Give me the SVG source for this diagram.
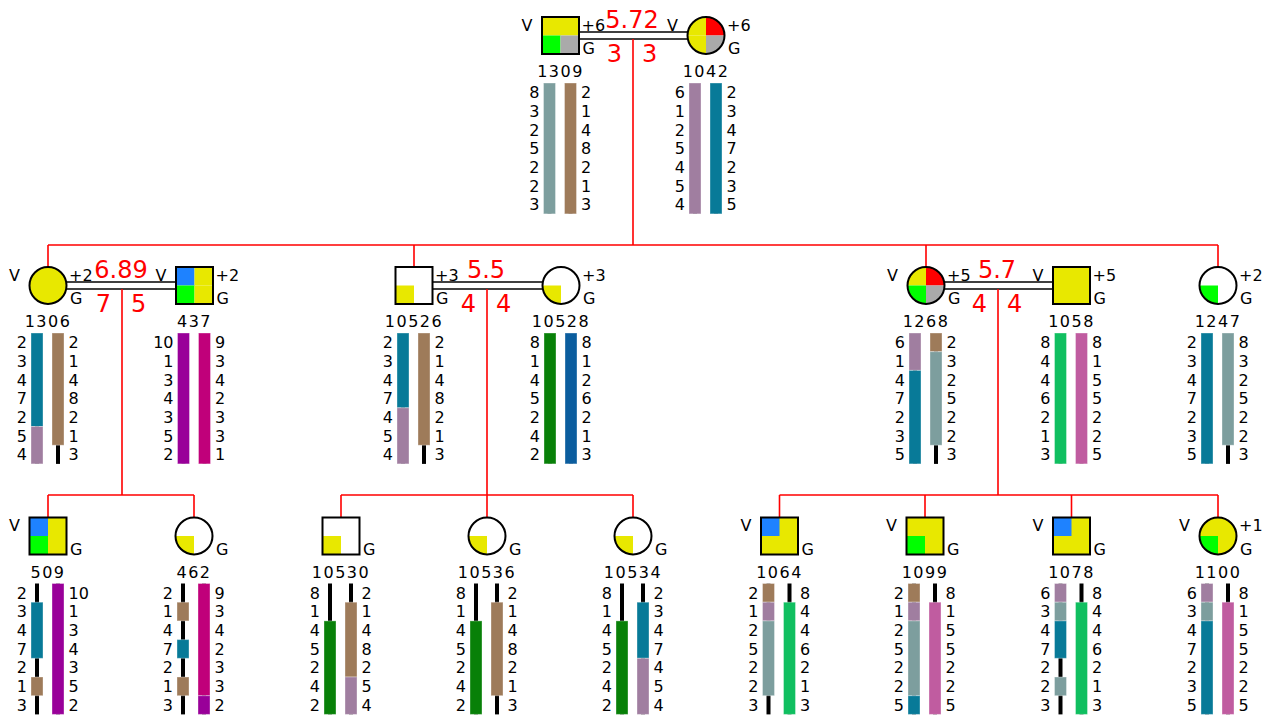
<svg xmlns="http://www.w3.org/2000/svg" xmlns:xlink="http://www.w3.org/1999/xlink" width="1269" height="719" viewBox="0 0 1269 719">
<style>
.t{font-family:"DejaVu Sans",sans-serif;font-size:16px;fill:#000}
.id{letter-spacing:1.5px;text-anchor:middle}
.M{text-anchor:middle}
.L{text-anchor:end}
.r{font-family:"DejaVu Sans",sans-serif;font-size:24px;fill:#f00}
.ln{stroke:#f00;stroke-width:1.6;fill:none}
.dl{stroke:#000;stroke-width:1.6}
.s{stroke:#000;stroke-width:2;fill:none}
.seg{stroke:#fff;stroke-opacity:.35;stroke-width:1}
.tg{fill:#7d9e9e}.br{fill:#9e7b5a}.mv{fill:#a07ea0}.tb{fill:#087a98}.pu{fill:#990099}.mg{fill:#c0007a}.dg{fill:#088008}.bl{fill:#0b5d9e}.gn{fill:#10bf60}.pk{fill:#c05ca0}
</style>
<defs>
<path id="cTL" d="M0 0H-18.5A18.5 18.5 0 0 1 0-18.5Z"/>
<path id="cTR" d="M0 0V-18.5A18.5 18.5 0 0 1 18.5 0Z"/>
<path id="cBR" d="M0 0H18.5A18.5 18.5 0 0 1 0 18.5Z"/>
<path id="cBL" d="M0 0V18.5A18.5 18.5 0 0 1-18.5 0Z"/>
<rect id="sTL" x="-18.5" y="-18.5" width="18.5" height="18.5"/>
<rect id="sTR" x="0" y="-18.5" width="18.5" height="18.5"/>
<rect id="sBL" x="-18.5" y="0" width="18.5" height="18.5"/>
<rect id="sBR" x="0" y="0" width="18.5" height="18.5"/>
<g id="bbs" fill="#000"><rect x="-13" y="47.5" width="4" height="130.9"/><rect x="8" y="47.5" width="4" height="130.9"/></g>
</defs>
<rect width="1269" height="719" fill="#fff"/>

<g id="connectors">
<line class="dl" x1="579" y1="32" x2="687.5" y2="32"/><line class="dl" x1="579" y1="39" x2="687.5" y2="39"/>
<line class="dl" x1="66.5" y1="282" x2="176" y2="282"/><line class="dl" x1="66.5" y1="289" x2="176" y2="289"/>
<line class="dl" x1="432.5" y1="282" x2="542.5" y2="282"/><line class="dl" x1="432.5" y1="289" x2="542.5" y2="289"/>
<line class="dl" x1="944.5" y1="282" x2="1053" y2="282"/><line class="dl" x1="944.5" y1="289" x2="1053" y2="289"/>
<path class="ln" d="M633 39V245M48 245H1218M48 245V267M414 245V267M926 245V267M1218 245V267"/>
<path class="ln" d="M122 289V495M48 495H194M48 495V517.5M194 495V517.5"/>
<path class="ln" d="M487 289V495M341 495H633M341 495V517.5M487 495V517.5M633 495V517.5"/>
<path class="ln" d="M998 289V495M779.5 495H1218M779.5 495V517.5M925 495V517.5M1071.5 495V517.5M1218 495V517.5"/>
<text class="r M" x="632" y="27.5">5.72</text><text class="r L" x="622" y="61.5">3</text><text class="r" x="642" y="61.5">3</text>
<text class="r M" x="121" y="277.5">6.89</text><text class="r L" x="111" y="311.5">7</text><text class="r" x="131" y="311.5">5</text>
<text class="r M" x="486" y="277.5">5.5</text><text class="r L" x="476" y="311.5">4</text><text class="r" x="496" y="311.5">4</text>
<text class="r M" x="997" y="277.5">5.7</text><text class="r L" x="987" y="311.5">4</text><text class="r" x="1007" y="311.5">4</text>
</g>

<g id="n1309" transform="translate(560.5 35.5)">
<rect x="-18.5" y="-18.5" width="37" height="18.5" fill="#e8e800"/><use href="#sBL" fill="#00ff00"/><use href="#sBR" fill="#aaa"/>
<rect class="s" x="-18.5" y="-18.5" width="37" height="37"/>
<text class="t M" x="-33.5" y="-5">V</text><text class="t" x="21" y="-5">+6</text><text class="t" x="22" y="18.5">G</text>
<text class="t id" x="0" y="41.5">1309</text>
<use href="#bbs"/>
<rect class="seg tg" x="-17" y="47.5" width="12" height="130.9"/>
<rect class="seg br" x="4" y="47.5" width="12" height="130.9"/>
<text class="t L"><tspan x="-21" y="62.6">8</tspan><tspan x="-21" y="81.3">3</tspan><tspan x="-21" y="100">2</tspan><tspan x="-21" y="118.7">5</tspan><tspan x="-21" y="137.4">2</tspan><tspan x="-21" y="156.1">2</tspan><tspan x="-21" y="174.8">3</tspan></text>
<text class="t"><tspan x="20.5" y="62.6">2</tspan><tspan x="20.5" y="81.3">1</tspan><tspan x="20.5" y="100">4</tspan><tspan x="20.5" y="118.7">8</tspan><tspan x="20.5" y="137.4">2</tspan><tspan x="20.5" y="156.1">1</tspan><tspan x="20.5" y="174.8">3</tspan></text>
</g>

<g id="n1042" transform="translate(706 35.5)">
<use href="#cTL" fill="#e8e800"/><use href="#cBL" fill="#e8e800"/><use href="#cTR" fill="#f00"/><use href="#cBR" fill="#aaa"/>
<circle class="s" r="18.5"/>
<text class="t M" x="-33.5" y="-5">V</text><text class="t" x="21" y="-5">+6</text><text class="t" x="22" y="18.5">G</text>
<text class="t id" x="0" y="41.5">1042</text>
<use href="#bbs"/>
<rect class="seg mv" x="-17" y="47.5" width="12" height="130.9"/>
<rect class="seg tb" x="4" y="47.5" width="12" height="130.9"/>
<text class="t L"><tspan x="-21" y="62.6">6</tspan><tspan x="-21" y="81.3">1</tspan><tspan x="-21" y="100">2</tspan><tspan x="-21" y="118.7">5</tspan><tspan x="-21" y="137.4">4</tspan><tspan x="-21" y="156.1">5</tspan><tspan x="-21" y="174.8">4</tspan></text>
<text class="t"><tspan x="20.5" y="62.6">2</tspan><tspan x="20.5" y="81.3">3</tspan><tspan x="20.5" y="100">4</tspan><tspan x="20.5" y="118.7">7</tspan><tspan x="20.5" y="137.4">2</tspan><tspan x="20.5" y="156.1">3</tspan><tspan x="20.5" y="174.8">5</tspan></text>
</g>

<g id="n1306" transform="translate(48 285.5)">
<circle r="18.5" fill="#e8e800"/><circle class="s" r="18.5"/>
<text class="t M" x="-33.5" y="-5">V</text><text class="t" x="21" y="-5">+2</text><text class="t" x="22" y="18.5">G</text>
<text class="t id" x="0" y="41.5">1306</text>
<use href="#bbs"/>
<rect class="seg tb" x="-17" y="47.5" width="12" height="93.5"/>
<rect class="seg mv" x="-17" y="141" width="12" height="37.4"/>
<rect class="seg br" x="4" y="47.5" width="12" height="112.2"/>
<text class="t L"><tspan x="-21" y="62.6">2</tspan><tspan x="-21" y="81.3">3</tspan><tspan x="-21" y="100">4</tspan><tspan x="-21" y="118.7">7</tspan><tspan x="-21" y="137.4">2</tspan><tspan x="-21" y="156.1">5</tspan><tspan x="-21" y="174.8">4</tspan></text>
<text class="t"><tspan x="20.5" y="62.6">2</tspan><tspan x="20.5" y="81.3">1</tspan><tspan x="20.5" y="100">4</tspan><tspan x="20.5" y="118.7">8</tspan><tspan x="20.5" y="137.4">2</tspan><tspan x="20.5" y="156.1">1</tspan><tspan x="20.5" y="174.8">3</tspan></text>
</g>

<g id="n437" transform="translate(194.5 285.5)">
<use href="#sTL" fill="#1e82ff"/><use href="#sTR" fill="#e8e800"/><use href="#sBL" fill="#00ff00"/><use href="#sBR" fill="#e8e800"/>
<rect class="s" x="-18.5" y="-18.5" width="37" height="37"/>
<text class="t M" x="-33.5" y="-5">V</text><text class="t" x="21" y="-5">+2</text><text class="t" x="22" y="18.5">G</text>
<text class="t id" x="0" y="41.5">437</text>
<use href="#bbs"/>
<rect class="seg pu" x="-17" y="47.5" width="12" height="130.9"/>
<rect class="seg mg" x="4" y="47.5" width="12" height="130.9"/>
<text class="t L"><tspan x="-21" y="62.6">10</tspan><tspan x="-21" y="81.3">1</tspan><tspan x="-21" y="100">3</tspan><tspan x="-21" y="118.7">4</tspan><tspan x="-21" y="137.4">3</tspan><tspan x="-21" y="156.1">5</tspan><tspan x="-21" y="174.8">2</tspan></text>
<text class="t"><tspan x="20.5" y="62.6">9</tspan><tspan x="20.5" y="81.3">3</tspan><tspan x="20.5" y="100">4</tspan><tspan x="20.5" y="118.7">2</tspan><tspan x="20.5" y="137.4">3</tspan><tspan x="20.5" y="156.1">3</tspan><tspan x="20.5" y="174.8">1</tspan></text>
</g>

<g id="n10526" transform="translate(414 285.5)">
<rect x="-18.5" y="-18.5" width="37" height="37" fill="#fff"/><use href="#sBL" fill="#e8e800"/>
<rect class="s" x="-18.5" y="-18.5" width="37" height="37"/>
<text class="t" x="21" y="-5">+3</text><text class="t" x="22" y="18.5">G</text>
<text class="t id" x="0" y="41.5">10526</text>
<use href="#bbs"/>
<rect class="seg tb" x="-17" y="47.5" width="12" height="74.8"/>
<rect class="seg mv" x="-17" y="122.3" width="12" height="56.1"/>
<rect class="seg br" x="4" y="47.5" width="12" height="112.2"/>
<text class="t L"><tspan x="-21" y="62.6">2</tspan><tspan x="-21" y="81.3">3</tspan><tspan x="-21" y="100">4</tspan><tspan x="-21" y="118.7">7</tspan><tspan x="-21" y="137.4">4</tspan><tspan x="-21" y="156.1">5</tspan><tspan x="-21" y="174.8">4</tspan></text>
<text class="t"><tspan x="20.5" y="62.6">2</tspan><tspan x="20.5" y="81.3">1</tspan><tspan x="20.5" y="100">4</tspan><tspan x="20.5" y="118.7">8</tspan><tspan x="20.5" y="137.4">2</tspan><tspan x="20.5" y="156.1">1</tspan><tspan x="20.5" y="174.8">3</tspan></text>
</g>

<g id="n10528" transform="translate(561 285.5)">
<circle r="18.5" fill="#fff"/><use href="#cBL" fill="#e8e800"/><circle class="s" r="18.5"/>
<text class="t" x="21" y="-5">+3</text><text class="t" x="22" y="18.5">G</text>
<text class="t id" x="0" y="41.5">10528</text>
<use href="#bbs"/>
<rect class="seg dg" x="-17" y="47.5" width="12" height="130.9"/>
<rect class="seg bl" x="4" y="47.5" width="12" height="130.9"/>
<text class="t L"><tspan x="-21" y="62.6">8</tspan><tspan x="-21" y="81.3">1</tspan><tspan x="-21" y="100">4</tspan><tspan x="-21" y="118.7">5</tspan><tspan x="-21" y="137.4">2</tspan><tspan x="-21" y="156.1">4</tspan><tspan x="-21" y="174.8">2</tspan></text>
<text class="t"><tspan x="20.5" y="62.6">8</tspan><tspan x="20.5" y="81.3">1</tspan><tspan x="20.5" y="100">2</tspan><tspan x="20.5" y="118.7">6</tspan><tspan x="20.5" y="137.4">2</tspan><tspan x="20.5" y="156.1">1</tspan><tspan x="20.5" y="174.8">3</tspan></text>
</g>

<g id="n1268" transform="translate(926 285.5)">
<use href="#cTL" fill="#e8e800"/><use href="#cTR" fill="#f00"/><use href="#cBL" fill="#00ff00"/><use href="#cBR" fill="#aaa"/>
<circle class="s" r="18.5"/>
<text class="t M" x="-33.5" y="-5">V</text><text class="t" x="21" y="-5">+5</text><text class="t" x="22" y="18.5">G</text>
<text class="t id" x="0" y="41.5">1268</text>
<use href="#bbs"/>
<rect class="seg mv" x="-17" y="47.5" width="12" height="37.4"/>
<rect class="seg tb" x="-17" y="84.9" width="12" height="93.5"/>
<rect class="seg br" x="4" y="47.5" width="12" height="18.7"/>
<rect class="seg tg" x="4" y="66.2" width="12" height="93.5"/>
<text class="t L"><tspan x="-21" y="62.6">6</tspan><tspan x="-21" y="81.3">1</tspan><tspan x="-21" y="100">4</tspan><tspan x="-21" y="118.7">7</tspan><tspan x="-21" y="137.4">2</tspan><tspan x="-21" y="156.1">3</tspan><tspan x="-21" y="174.8">5</tspan></text>
<text class="t"><tspan x="20.5" y="62.6">2</tspan><tspan x="20.5" y="81.3">3</tspan><tspan x="20.5" y="100">2</tspan><tspan x="20.5" y="118.7">5</tspan><tspan x="20.5" y="137.4">2</tspan><tspan x="20.5" y="156.1">2</tspan><tspan x="20.5" y="174.8">3</tspan></text>
</g>

<g id="n1058" transform="translate(1071.5 285.5)">
<rect x="-18.5" y="-18.5" width="37" height="37" fill="#e8e800"/>
<rect class="s" x="-18.5" y="-18.5" width="37" height="37"/>
<text class="t M" x="-33.5" y="-5">V</text><text class="t" x="21" y="-5">+5</text><text class="t" x="22" y="18.5">G</text>
<text class="t id" x="0" y="41.5">1058</text>
<use href="#bbs"/>
<rect class="seg gn" x="-17" y="47.5" width="12" height="130.9"/>
<rect class="seg pk" x="4" y="47.5" width="12" height="130.9"/>
<text class="t L"><tspan x="-21" y="62.6">8</tspan><tspan x="-21" y="81.3">4</tspan><tspan x="-21" y="100">4</tspan><tspan x="-21" y="118.7">6</tspan><tspan x="-21" y="137.4">2</tspan><tspan x="-21" y="156.1">1</tspan><tspan x="-21" y="174.8">3</tspan></text>
<text class="t"><tspan x="20.5" y="62.6">8</tspan><tspan x="20.5" y="81.3">1</tspan><tspan x="20.5" y="100">5</tspan><tspan x="20.5" y="118.7">5</tspan><tspan x="20.5" y="137.4">2</tspan><tspan x="20.5" y="156.1">2</tspan><tspan x="20.5" y="174.8">5</tspan></text>
</g>

<g id="n1247" transform="translate(1218 285.5)">
<circle r="18.5" fill="#fff"/><use href="#cBL" fill="#00ff00"/><circle class="s" r="18.5"/>
<text class="t" x="21" y="-5">+2</text><text class="t" x="22" y="18.5">G</text>
<text class="t id" x="0" y="41.5">1247</text>
<use href="#bbs"/>
<rect class="seg tb" x="-17" y="47.5" width="12" height="130.9"/>
<rect class="seg tg" x="4" y="47.5" width="12" height="112.2"/>
<text class="t L"><tspan x="-21" y="62.6">2</tspan><tspan x="-21" y="81.3">3</tspan><tspan x="-21" y="100">4</tspan><tspan x="-21" y="118.7">7</tspan><tspan x="-21" y="137.4">2</tspan><tspan x="-21" y="156.1">3</tspan><tspan x="-21" y="174.8">5</tspan></text>
<text class="t"><tspan x="20.5" y="62.6">8</tspan><tspan x="20.5" y="81.3">3</tspan><tspan x="20.5" y="100">2</tspan><tspan x="20.5" y="118.7">5</tspan><tspan x="20.5" y="137.4">2</tspan><tspan x="20.5" y="156.1">2</tspan><tspan x="20.5" y="174.8">3</tspan></text>
</g>

<g id="n509" transform="translate(48 536)">
<use href="#sTL" fill="#1e82ff"/><use href="#sTR" fill="#e8e800"/><use href="#sBL" fill="#00ff00"/><use href="#sBR" fill="#e8e800"/>
<rect class="s" x="-18.5" y="-18.5" width="37" height="37"/>
<text class="t M" x="-33.5" y="-5">V</text><text class="t" x="22" y="18.5">G</text>
<text class="t id" x="0" y="41.5">509</text>
<use href="#bbs"/>
<rect class="seg tb" x="-17" y="66.2" width="12" height="56.1"/>
<rect class="seg br" x="-17" y="141" width="12" height="18.7"/>
<rect class="seg pu" x="4" y="47.5" width="12" height="130.9"/>
<text class="t L"><tspan x="-21" y="62.6">2</tspan><tspan x="-21" y="81.3">3</tspan><tspan x="-21" y="100">4</tspan><tspan x="-21" y="118.7">7</tspan><tspan x="-21" y="137.4">2</tspan><tspan x="-21" y="156.1">1</tspan><tspan x="-21" y="174.8">3</tspan></text>
<text class="t"><tspan x="20.5" y="62.6">10</tspan><tspan x="20.5" y="81.3">1</tspan><tspan x="20.5" y="100">3</tspan><tspan x="20.5" y="118.7">4</tspan><tspan x="20.5" y="137.4">3</tspan><tspan x="20.5" y="156.1">5</tspan><tspan x="20.5" y="174.8">2</tspan></text>
</g>

<g id="n462" transform="translate(194 536)">
<circle r="18.5" fill="#fff"/><use href="#cBL" fill="#e8e800"/><circle class="s" r="18.5"/>
<text class="t" x="22" y="18.5">G</text>
<text class="t id" x="0" y="41.5">462</text>
<use href="#bbs"/>
<rect class="seg br" x="-17" y="66.2" width="12" height="18.7"/>
<rect class="seg tb" x="-17" y="103.6" width="12" height="18.7"/>
<rect class="seg br" x="-17" y="141" width="12" height="18.7"/>
<rect class="seg mg" x="4" y="47.5" width="12" height="112.2"/>
<rect class="seg pu" x="4" y="159.7" width="12" height="18.7"/>
<text class="t L"><tspan x="-21" y="62.6">2</tspan><tspan x="-21" y="81.3">1</tspan><tspan x="-21" y="100">4</tspan><tspan x="-21" y="118.7">7</tspan><tspan x="-21" y="137.4">2</tspan><tspan x="-21" y="156.1">1</tspan><tspan x="-21" y="174.8">3</tspan></text>
<text class="t"><tspan x="20.5" y="62.6">9</tspan><tspan x="20.5" y="81.3">3</tspan><tspan x="20.5" y="100">4</tspan><tspan x="20.5" y="118.7">2</tspan><tspan x="20.5" y="137.4">3</tspan><tspan x="20.5" y="156.1">3</tspan><tspan x="20.5" y="174.8">2</tspan></text>
</g>

<g id="n10530" transform="translate(341 536)">
<rect x="-18.5" y="-18.5" width="37" height="37" fill="#fff"/><use href="#sBL" fill="#e8e800"/>
<rect class="s" x="-18.5" y="-18.5" width="37" height="37"/>
<text class="t" x="22" y="18.5">G</text>
<text class="t id" x="0" y="41.5">10530</text>
<use href="#bbs"/>
<rect class="seg dg" x="-17" y="84.9" width="12" height="93.5"/>
<rect class="seg br" x="4" y="66.2" width="12" height="74.8"/>
<rect class="seg mv" x="4" y="141" width="12" height="37.4"/>
<text class="t L"><tspan x="-21" y="62.6">8</tspan><tspan x="-21" y="81.3">1</tspan><tspan x="-21" y="100">4</tspan><tspan x="-21" y="118.7">5</tspan><tspan x="-21" y="137.4">2</tspan><tspan x="-21" y="156.1">4</tspan><tspan x="-21" y="174.8">2</tspan></text>
<text class="t"><tspan x="20.5" y="62.6">2</tspan><tspan x="20.5" y="81.3">1</tspan><tspan x="20.5" y="100">4</tspan><tspan x="20.5" y="118.7">8</tspan><tspan x="20.5" y="137.4">2</tspan><tspan x="20.5" y="156.1">5</tspan><tspan x="20.5" y="174.8">4</tspan></text>
</g>

<g id="n10536" transform="translate(487 536)">
<circle r="18.5" fill="#fff"/><use href="#cBL" fill="#e8e800"/><circle class="s" r="18.5"/>
<text class="t" x="22" y="18.5">G</text>
<text class="t id" x="0" y="41.5">10536</text>
<use href="#bbs"/>
<rect class="seg dg" x="-17" y="84.9" width="12" height="93.5"/>
<rect class="seg br" x="4" y="66.2" width="12" height="93.5"/>
<text class="t L"><tspan x="-21" y="62.6">8</tspan><tspan x="-21" y="81.3">1</tspan><tspan x="-21" y="100">4</tspan><tspan x="-21" y="118.7">5</tspan><tspan x="-21" y="137.4">2</tspan><tspan x="-21" y="156.1">4</tspan><tspan x="-21" y="174.8">2</tspan></text>
<text class="t"><tspan x="20.5" y="62.6">2</tspan><tspan x="20.5" y="81.3">1</tspan><tspan x="20.5" y="100">4</tspan><tspan x="20.5" y="118.7">8</tspan><tspan x="20.5" y="137.4">2</tspan><tspan x="20.5" y="156.1">1</tspan><tspan x="20.5" y="174.8">3</tspan></text>
</g>

<g id="n10534" transform="translate(633 536)">
<circle r="18.5" fill="#fff"/><use href="#cBL" fill="#e8e800"/><circle class="s" r="18.5"/>
<text class="t" x="22" y="18.5">G</text>
<text class="t id" x="0" y="41.5">10534</text>
<use href="#bbs"/>
<rect class="seg dg" x="-17" y="84.9" width="12" height="93.5"/>
<rect class="seg tb" x="4" y="66.2" width="12" height="56.1"/>
<rect class="seg mv" x="4" y="122.3" width="12" height="56.1"/>
<text class="t L"><tspan x="-21" y="62.6">8</tspan><tspan x="-21" y="81.3">1</tspan><tspan x="-21" y="100">4</tspan><tspan x="-21" y="118.7">5</tspan><tspan x="-21" y="137.4">2</tspan><tspan x="-21" y="156.1">4</tspan><tspan x="-21" y="174.8">2</tspan></text>
<text class="t"><tspan x="20.5" y="62.6">2</tspan><tspan x="20.5" y="81.3">3</tspan><tspan x="20.5" y="100">4</tspan><tspan x="20.5" y="118.7">7</tspan><tspan x="20.5" y="137.4">4</tspan><tspan x="20.5" y="156.1">5</tspan><tspan x="20.5" y="174.8">4</tspan></text>
</g>

<g id="n1064" transform="translate(779.5 536)">
<rect x="-18.5" y="-18.5" width="37" height="37" fill="#e8e800"/><use href="#sTL" fill="#1e82ff"/>
<rect class="s" x="-18.5" y="-18.5" width="37" height="37"/>
<text class="t M" x="-33.5" y="-5">V</text><text class="t" x="22" y="18.5">G</text>
<text class="t id" x="0" y="41.5">1064</text>
<use href="#bbs"/>
<rect class="seg br" x="-17" y="47.5" width="12" height="18.7"/>
<rect class="seg mv" x="-17" y="66.2" width="12" height="18.7"/>
<rect class="seg tg" x="-17" y="84.9" width="12" height="74.8"/>
<rect class="seg gn" x="4" y="66.2" width="12" height="112.2"/>
<text class="t L"><tspan x="-21" y="62.6">2</tspan><tspan x="-21" y="81.3">1</tspan><tspan x="-21" y="100">2</tspan><tspan x="-21" y="118.7">5</tspan><tspan x="-21" y="137.4">2</tspan><tspan x="-21" y="156.1">2</tspan><tspan x="-21" y="174.8">3</tspan></text>
<text class="t"><tspan x="20.5" y="62.6">8</tspan><tspan x="20.5" y="81.3">4</tspan><tspan x="20.5" y="100">4</tspan><tspan x="20.5" y="118.7">6</tspan><tspan x="20.5" y="137.4">2</tspan><tspan x="20.5" y="156.1">1</tspan><tspan x="20.5" y="174.8">3</tspan></text>
</g>

<g id="n1099" transform="translate(925 536)">
<rect x="-18.5" y="-18.5" width="37" height="37" fill="#e8e800"/><use href="#sBL" fill="#00ff00"/>
<rect class="s" x="-18.5" y="-18.5" width="37" height="37"/>
<text class="t M" x="-33.5" y="-5">V</text><text class="t" x="22" y="18.5">G</text>
<text class="t id" x="0" y="41.5">1099</text>
<use href="#bbs"/>
<rect class="seg br" x="-17" y="47.5" width="12" height="18.7"/>
<rect class="seg mv" x="-17" y="66.2" width="12" height="18.7"/>
<rect class="seg tg" x="-17" y="84.9" width="12" height="74.8"/>
<rect class="seg tb" x="-17" y="159.7" width="12" height="18.7"/>
<rect class="seg pk" x="4" y="66.2" width="12" height="112.2"/>
<text class="t L"><tspan x="-21" y="62.6">2</tspan><tspan x="-21" y="81.3">1</tspan><tspan x="-21" y="100">2</tspan><tspan x="-21" y="118.7">5</tspan><tspan x="-21" y="137.4">2</tspan><tspan x="-21" y="156.1">2</tspan><tspan x="-21" y="174.8">5</tspan></text>
<text class="t"><tspan x="20.5" y="62.6">8</tspan><tspan x="20.5" y="81.3">1</tspan><tspan x="20.5" y="100">5</tspan><tspan x="20.5" y="118.7">5</tspan><tspan x="20.5" y="137.4">2</tspan><tspan x="20.5" y="156.1">2</tspan><tspan x="20.5" y="174.8">5</tspan></text>
</g>

<g id="n1078" transform="translate(1071.5 536)">
<rect x="-18.5" y="-18.5" width="37" height="37" fill="#e8e800"/><use href="#sTL" fill="#1e82ff"/>
<rect class="s" x="-18.5" y="-18.5" width="37" height="37"/>
<text class="t M" x="-33.5" y="-5">V</text><text class="t" x="22" y="18.5">G</text>
<text class="t id" x="0" y="41.5">1078</text>
<use href="#bbs"/>
<rect class="seg mv" x="-17" y="47.5" width="12" height="18.7"/>
<rect class="seg tg" x="-17" y="66.2" width="12" height="18.7"/>
<rect class="seg tb" x="-17" y="84.9" width="12" height="37.4"/>
<rect class="seg tg" x="-17" y="141" width="12" height="18.7"/>
<rect class="seg gn" x="4" y="66.2" width="12" height="112.2"/>
<text class="t L"><tspan x="-21" y="62.6">6</tspan><tspan x="-21" y="81.3">3</tspan><tspan x="-21" y="100">4</tspan><tspan x="-21" y="118.7">7</tspan><tspan x="-21" y="137.4">2</tspan><tspan x="-21" y="156.1">2</tspan><tspan x="-21" y="174.8">3</tspan></text>
<text class="t"><tspan x="20.5" y="62.6">8</tspan><tspan x="20.5" y="81.3">4</tspan><tspan x="20.5" y="100">4</tspan><tspan x="20.5" y="118.7">6</tspan><tspan x="20.5" y="137.4">2</tspan><tspan x="20.5" y="156.1">1</tspan><tspan x="20.5" y="174.8">3</tspan></text>
</g>

<g id="n1100" transform="translate(1218 536)">
<circle r="18.5" fill="#e8e800"/><use href="#cBL" fill="#00ff00"/><circle class="s" r="18.5"/>
<text class="t M" x="-33.5" y="-5">V</text><text class="t" x="21" y="-5">+1</text><text class="t" x="22" y="18.5">G</text>
<text class="t id" x="0" y="41.5">1100</text>
<use href="#bbs"/>
<rect class="seg mv" x="-17" y="47.5" width="12" height="18.7"/>
<rect class="seg tg" x="-17" y="66.2" width="12" height="18.7"/>
<rect class="seg tb" x="-17" y="84.9" width="12" height="93.5"/>
<rect class="seg pk" x="4" y="66.2" width="12" height="112.2"/>
<text class="t L"><tspan x="-21" y="62.6">6</tspan><tspan x="-21" y="81.3">3</tspan><tspan x="-21" y="100">4</tspan><tspan x="-21" y="118.7">7</tspan><tspan x="-21" y="137.4">2</tspan><tspan x="-21" y="156.1">3</tspan><tspan x="-21" y="174.8">5</tspan></text>
<text class="t"><tspan x="20.5" y="62.6">8</tspan><tspan x="20.5" y="81.3">1</tspan><tspan x="20.5" y="100">5</tspan><tspan x="20.5" y="118.7">5</tspan><tspan x="20.5" y="137.4">2</tspan><tspan x="20.5" y="156.1">2</tspan><tspan x="20.5" y="174.8">5</tspan></text>
</g>
</svg>
